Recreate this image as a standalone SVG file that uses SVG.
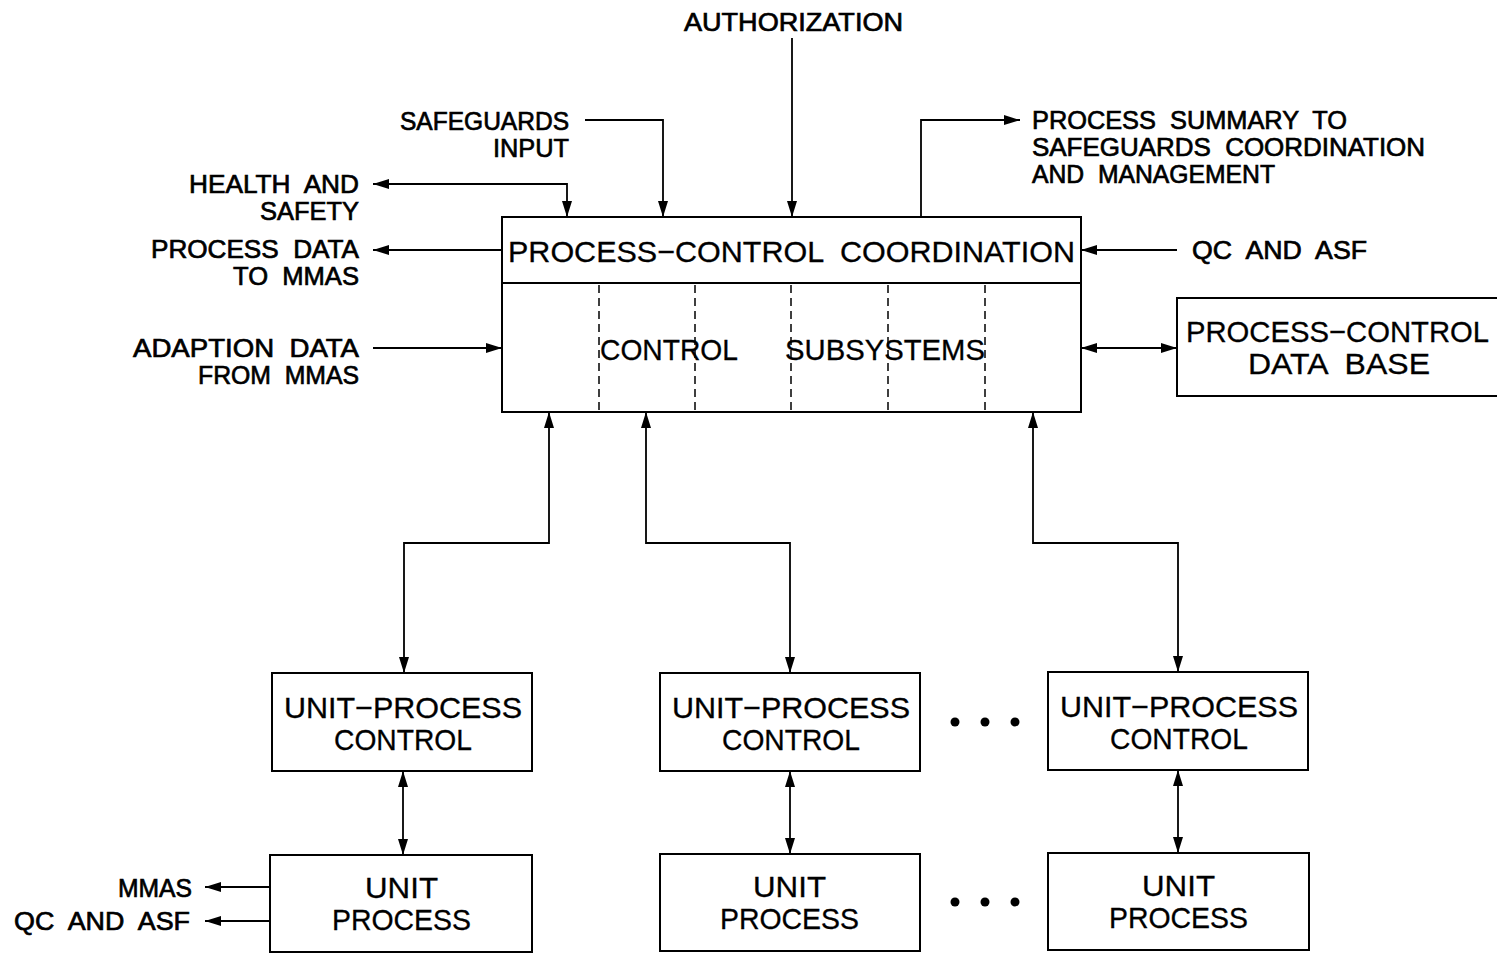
<svg xmlns="http://www.w3.org/2000/svg" width="1497" height="953" viewBox="0 0 1497 953" xml:space="preserve">
  <style>
    .box { fill: #fff; stroke: #000; stroke-width: 2; }
    .wire { fill: none; stroke: #000; stroke-width: 1.8; }
    .dash { fill: none; stroke: #000; stroke-width: 1.5; stroke-dasharray: 8 5; }
    .lbl { font-family: "Liberation Sans", Arial, sans-serif; font-size: 26px; fill: #000; stroke: #000; stroke-width: 0.7; white-space: pre; }
    .ttl { font-family: "Liberation Sans", Arial, sans-serif; font-size: 30px; fill: #000; stroke: #000; stroke-width: 0.3; white-space: pre; }
    .dot { fill: #000; }
  </style>
  <defs>
    <marker id="ah" viewBox="0 0 16 10" refX="16" refY="5" markerWidth="16" markerHeight="10" markerUnits="userSpaceOnUse" orient="auto-start-reverse">
      <path d="M0,0 L16,5 L0,10 Z" fill="#000"/>
    </marker>
  </defs>

  <!-- central coordination block -->
  <g id="coordination">
    <rect class="box" x="502" y="217" width="579" height="195"/>
    <line class="wire" x1="502" y1="283" x2="1081" y2="283" stroke-width="2.5"/>
    <text class="ttl" x="508" y="262" textLength="567" lengthAdjust="spacingAndGlyphs">PROCESS−CONTROL  COORDINATION</text>
  </g>

  <g id="subsystems">
    <line class="dash" x1="599" y1="285" x2="599" y2="411"/>
    <line class="dash" x1="695" y1="285" x2="695" y2="411"/>
    <line class="dash" x1="791" y1="285" x2="791" y2="411"/>
    <line class="dash" x1="888" y1="285" x2="888" y2="411"/>
    <line class="dash" x1="985" y1="285" x2="985" y2="411"/>
    <text class="ttl" x="600" y="360" textLength="138" lengthAdjust="spacingAndGlyphs">CONTROL</text>
    <text class="ttl" x="785" y="360" textLength="200" lengthAdjust="spacingAndGlyphs">SUBSYSTEMS</text>
  </g>

  <g id="database">
    <rect class="box" x="1177" y="298" width="321" height="98"/>
    <text class="ttl" x="1186" y="342" textLength="303" lengthAdjust="spacingAndGlyphs">PROCESS−CONTROL</text>
    <text class="ttl" x="1248" y="374" textLength="182" lengthAdjust="spacingAndGlyphs">DATA  BASE</text>
  </g>

  <!-- unit-process control row -->
  <g id="upc1">
    <rect class="box" x="272" y="673" width="260" height="98"/>
    <text class="ttl" x="284" y="718" textLength="238" lengthAdjust="spacingAndGlyphs">UNIT−PROCESS</text>
    <text class="ttl" x="334" y="750" textLength="138" lengthAdjust="spacingAndGlyphs">CONTROL</text>
  </g>
  <g id="upc2">
    <rect class="box" x="660" y="673" width="260" height="98"/>
    <text class="ttl" x="672" y="718" textLength="238" lengthAdjust="spacingAndGlyphs">UNIT−PROCESS</text>
    <text class="ttl" x="722" y="750" textLength="138" lengthAdjust="spacingAndGlyphs">CONTROL</text>
  </g>
  <g id="upc3">
    <rect class="box" x="1048" y="672" width="260" height="98"/>
    <text class="ttl" x="1060" y="717" textLength="238" lengthAdjust="spacingAndGlyphs">UNIT−PROCESS</text>
    <text class="ttl" x="1110" y="749" textLength="138" lengthAdjust="spacingAndGlyphs">CONTROL</text>
  </g>

  <!-- unit process row -->
  <g id="up1">
    <rect class="box" x="270" y="855" width="262" height="97"/>
    <text class="ttl" x="365" y="898" textLength="73" lengthAdjust="spacingAndGlyphs">UNIT</text>
    <text class="ttl" x="332" y="930" textLength="139" lengthAdjust="spacingAndGlyphs">PROCESS</text>
  </g>
  <g id="up2">
    <rect class="box" x="660" y="854" width="260" height="97"/>
    <text class="ttl" x="753" y="897" textLength="73" lengthAdjust="spacingAndGlyphs">UNIT</text>
    <text class="ttl" x="720" y="929" textLength="139" lengthAdjust="spacingAndGlyphs">PROCESS</text>
  </g>
  <g id="up3">
    <rect class="box" x="1048" y="853" width="261" height="97"/>
    <text class="ttl" x="1142" y="896" textLength="73" lengthAdjust="spacingAndGlyphs">UNIT</text>
    <text class="ttl" x="1109" y="928" textLength="139" lengthAdjust="spacingAndGlyphs">PROCESS</text>
  </g>

  <!-- ellipses between columns -->
  <g id="ellipsis">
    <circle class="dot" cx="955" cy="722" r="4.5"/>
    <circle class="dot" cx="985" cy="722" r="4.5"/>
    <circle class="dot" cx="1015" cy="722" r="4.5"/>
    <circle class="dot" cx="955" cy="902" r="4.5"/>
    <circle class="dot" cx="985" cy="902" r="4.5"/>
    <circle class="dot" cx="1015" cy="902" r="4.5"/>
  </g>

  <!-- external labels -->
  <g id="labels">
    <text class="lbl" x="684" y="31" textLength="219" lengthAdjust="spacingAndGlyphs">AUTHORIZATION</text>
    <text class="lbl" x="400" y="130" textLength="169" lengthAdjust="spacingAndGlyphs">SAFEGUARDS</text>
    <text class="lbl" x="493" y="157" textLength="76" lengthAdjust="spacingAndGlyphs">INPUT</text>
    <text class="lbl" x="189" y="193" textLength="170" lengthAdjust="spacingAndGlyphs">HEALTH  AND</text>
    <text class="lbl" x="260" y="220" textLength="99" lengthAdjust="spacingAndGlyphs">SAFETY</text>
    <text class="lbl" x="151" y="258" textLength="208" lengthAdjust="spacingAndGlyphs">PROCESS  DATA</text>
    <text class="lbl" x="233" y="285" textLength="126" lengthAdjust="spacingAndGlyphs">TO  MMAS</text>
    <text class="lbl" x="133" y="357" textLength="226" lengthAdjust="spacingAndGlyphs">ADAPTION  DATA</text>
    <text class="lbl" x="198" y="384" textLength="161" lengthAdjust="spacingAndGlyphs">FROM  MMAS</text>
    <text class="lbl" x="1032" y="129" textLength="315" lengthAdjust="spacingAndGlyphs">PROCESS  SUMMARY  TO</text>
    <text class="lbl" x="1032" y="156" textLength="393" lengthAdjust="spacingAndGlyphs">SAFEGUARDS  COORDINATION</text>
    <text class="lbl" x="1032" y="183" textLength="243" lengthAdjust="spacingAndGlyphs">AND  MANAGEMENT</text>
    <text class="lbl" x="1192" y="259" textLength="175" lengthAdjust="spacingAndGlyphs">QC  AND  ASF</text>
    <text class="lbl" x="118" y="897" textLength="74" lengthAdjust="spacingAndGlyphs">MMAS</text>
    <text class="lbl" x="14" y="930" textLength="176" lengthAdjust="spacingAndGlyphs">QC  AND  ASF</text>
  </g>

  <!-- connectors -->
  <g id="connectors">
    <line class="wire" x1="792" y1="38" x2="792" y2="217" marker-end="url(#ah)"/>
    <polyline class="wire" points="585,120 663,120 663,217" marker-end="url(#ah)"/>
    <polyline class="wire" points="373,184 567,184 567,217" marker-start="url(#ah)" marker-end="url(#ah)"/>
    <line class="wire" x1="502" y1="250" x2="373" y2="250" marker-end="url(#ah)"/>
    <line class="wire" x1="373" y1="348" x2="502" y2="348" marker-end="url(#ah)"/>
    <polyline class="wire" points="921,217 921,120 1020,120" marker-end="url(#ah)"/>
    <line class="wire" x1="1177" y1="250" x2="1081" y2="250" marker-end="url(#ah)"/>
    <line class="wire" x1="1081" y1="348" x2="1177" y2="348" marker-start="url(#ah)" marker-end="url(#ah)"/>

    <polyline class="wire" points="549,412 549,543 404,543 404,673" marker-start="url(#ah)" marker-end="url(#ah)"/>
    <polyline class="wire" points="646,412 646,543 790,543 790,673" marker-start="url(#ah)" marker-end="url(#ah)"/>
    <polyline class="wire" points="1033,412 1033,543 1178,543 1178,672" marker-start="url(#ah)" marker-end="url(#ah)"/>

    <line class="wire" x1="403" y1="771" x2="403" y2="855" marker-start="url(#ah)" marker-end="url(#ah)"/>
    <line class="wire" x1="790" y1="771" x2="790" y2="854" marker-start="url(#ah)" marker-end="url(#ah)"/>
    <line class="wire" x1="1178" y1="770" x2="1178" y2="853" marker-start="url(#ah)" marker-end="url(#ah)"/>

    <line class="wire" x1="270" y1="887" x2="205" y2="887" marker-end="url(#ah)"/>
    <line class="wire" x1="270" y1="921" x2="205" y2="921" marker-end="url(#ah)"/>
  </g>
</svg>
